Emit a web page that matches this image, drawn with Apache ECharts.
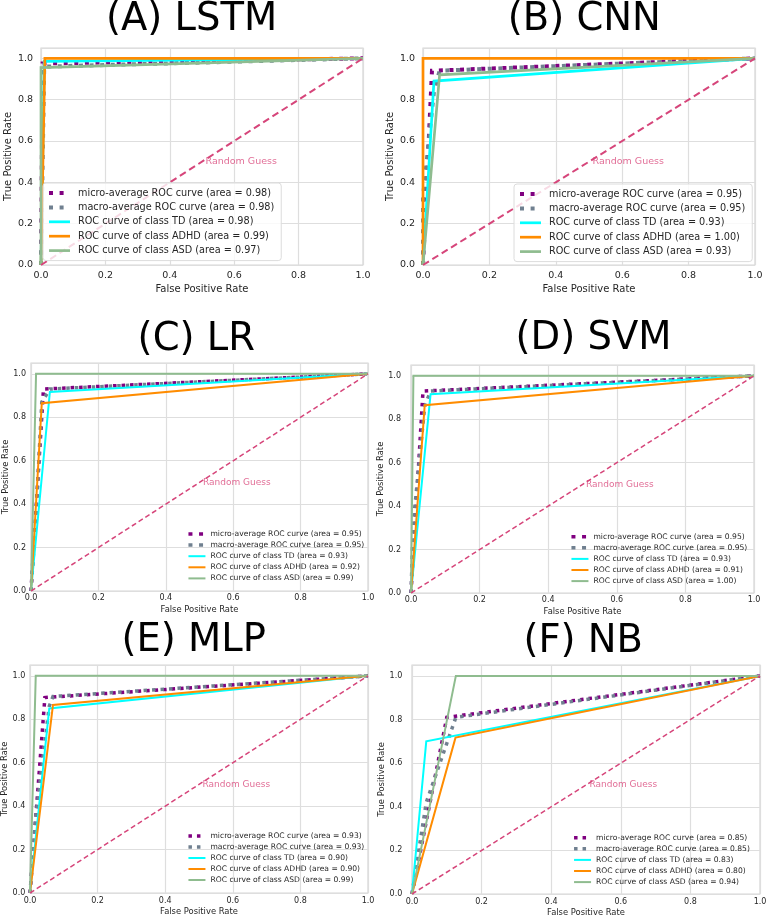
<!DOCTYPE html>
<html><head><meta charset="utf-8">
<script src="https://cdn.jsdelivr.net/npm/echarts@6/dist/echarts.min.js"></script>
<style>html,body{margin:0;padding:0;background:#fff}#c{width:768px;height:919px}</style>
</head><body><div id="c"></div>
<script>
// ---------------- data ----------------
const panelTitles = ['(A) LSTM', '(B) CNN', '(C) LR', '(D) SVM', '(E) MLP', '(F) NB'];
const tickLabels = ['0.0', '0.2', '0.4', '0.6', '0.8', '1.0'];
const xAxisTitle = 'False Positive Rate';
const yAxisTitle = 'True Positive Rate';
const guessText = 'Random Guess';
const guessLine = [[0, 0], [1, 1]];
const guessLabelAt = [[0.5, 0.5]];

const microArea = ['0.98', '0.95', '0.95', '0.95', '0.93', '0.85'];
const macroArea = ['0.98', '0.95', '0.95', '0.95', '0.93', '0.85'];
const tdArea    = ['0.98', '0.93', '0.93', '0.93', '0.90', '0.83'];
const adhdArea  = ['0.99', '1.00', '0.92', '0.91', '0.90', '0.80'];
const asdArea   = ['0.97', '0.93', '0.99', '1.00', '0.99', '0.94'];

const lstmMicro = [[0, 0], [0.005, 0.975], [1, 1]];
const lstmMacro = [[0, 0], [0.01, 0.96], [1, 1]];
const lstmTD    = [[0, 0], [0.01, 0.985], [1, 1]];
const lstmADHD  = [[0, 0], [0.012, 1], [1, 1]];
const lstmASD   = [[0, 0], [0, 0.955], [1, 1]];

const cnnMicro = [[0, 0], [0.027, 0.94], [1, 1]];
const cnnMacro = [[0, 0], [0, 0.33], [0.033, 0.84], [0.05, 0.94], [1, 1]];
const cnnTD    = [[0, 0], [0.033, 0.89], [1, 1]];
const cnnADHD  = [[0, 0], [0, 1], [1, 1]];
const cnnASD   = [[0, 0], [0.05, 0.92], [1, 1]];

const lrMicro = [[0, 0], [0.037, 0.93], [1, 1]];
const lrMacro = [[0, 0], [0.015, 0.35], [0.032, 0.87], [0.056, 0.93], [1, 1]];
const lrTD    = [[0, 0], [0.056, 0.917], [1, 1]];
const lrADHD  = [[0, 0], [0.032, 0.865], [1, 1]];
const lrASD   = [[0, 0], [0.015, 1], [1, 1]];

const svmMicro = [[0, 0], [0.035, 0.93], [1, 1]];
const svmMacro = [[0, 0], [0.007, 0.33], [0.04, 0.86], [0.057, 0.93], [1, 1]];
const svmTD    = [[0, 0], [0.057, 0.915], [1, 1]];
const svmADHD  = [[0, 0], [0.04, 0.865], [1, 1]];
const svmASD   = [[0, 0], [0.007, 1], [1, 1]];

const mlpMicro = [[0, 0], [0.044, 0.9], [1, 1]];
const mlpMacro = [[0, 0], [0.017, 0.35], [0.057, 0.86], [0.068, 0.905], [1, 1]];
const mlpTD    = [[0, 0], [0.057, 0.85], [1, 1]];
const mlpADHD  = [[0, 0], [0.068, 0.866], [1, 1]];
const mlpASD   = [[0, 0], [0.017, 1], [1, 1]];

const nbMicro = [[0, 0], [0.1, 0.81], [1, 1]];
const nbMacro = [[0, 0], [0.041, 0.42], [0.126, 0.81], [1, 1]];
const nbTD    = [[0, 0], [0.041, 0.7], [1, 1]];
const nbADHD  = [[0, 0], [0.125, 0.717], [1, 1]];
const nbASD   = [[0, 0], [0.126, 1], [1, 1]];

const curves = [
  [lstmMicro, lstmMacro, lstmTD, lstmADHD, lstmASD],
  [cnnMicro, cnnMacro, cnnTD, cnnADHD, cnnASD],
  [lrMicro, lrMacro, lrTD, lrADHD, lrASD],
  [svmMicro, svmMacro, svmTD, svmADHD, svmASD],
  [mlpMicro, mlpMacro, mlpTD, mlpADHD, mlpASD],
  [nbMicro, nbMacro, nbTD, nbADHD, nbASD]
];

// ---------------- layout & style ----------------
const FONT = 'DejaVu Sans';
const colors = ['#800080', '#708090', '#00ffff', '#ff8c00', '#8fbc8f'];
const guessColor = '#d6457a';
const gridColor = '#dedede';
const textColor = '#262626';

const big = {tick: 9.5, name: 10, legend: 9.7, solid: 2.7, dot: 4, dotDash: [4, 6.6], diag: 2, diagDash: [7, 4], guess: 9.5, iconW: 21};
const small = {tick: 8, name: 8.4, legend: 7.6, solid: 2, dot: 3.5, dotDash: [3.5, 5], diag: 1.5, diagDash: [5, 3], guess: 9, iconW: 17};

const layout = [
  {g: {left: 41, top: 48, width: 322, height: 217}, t: [191.5, 19.5], s: big, lg: {left: 43, top: 183, border: true, gap: 4.4, ih: 12, tp: 5}, xm: 6, xg: 19, ym: 8, yg: 28},
  {g: {left: 423, top: 48, width: 332, height: 217}, t: [584.3, 20], s: big, lg: {left: 514, top: 184, border: true, gap: 4.4, ih: 12, tp: 5}, xm: 6, xg: 19, ym: 8, yg: 28},
  {g: {left: 31, top: 363, width: 337, height: 228}, t: [196.3, 340], s: small, lg: {left: 186.7, top: 530, border: false, gap: 3.1, ih: 8, tp: 0}, xm: 3, xg: 14.5, ym: 5, yg: 21},
  {g: {left: 411, top: 365, width: 343, height: 228}, t: [593.5, 339], s: small, lg: {left: 569.7, top: 532.7, border: false, gap: 3.1, ih: 8, tp: 0}, xm: 3, xg: 14.5, ym: 10, yg: 20},
  {g: {left: 30, top: 665, width: 338, height: 228}, t: [193.7, 641], s: small, lg: {left: 186.7, top: 832, border: false, gap: 3.0, ih: 8, tp: 1}, xm: 3.5, xg: 14.5, ym: 4.7, yg: 20.7},
  {g: {left: 412, top: 665, width: 348, height: 229}, t: [583.2, 641.5], s: small, lg: {left: 572.3, top: 833.7, border: false, gap: 3.1, ih: 8, tp: 1}, xm: 3.5, xg: 14.5, ym: 9.7, yg: 20}
];

// ---------------- build option ----------------
const grids = [], xAxes = [], yAxes = [], series = [], legends = [], graphics = [];

layout.forEach((L, i) => {
  const s = L.s;
  grids.push(Object.assign({show: true, borderColor: '#d6d6d6', borderWidth: 1.2, backgroundColor: '#fff', containLabel: false, outerBoundsMode: 'none'}, L.g));
  xAxes.push({
    type: 'value', gridIndex: i, min: 0, max: 1, interval: 0.2,
    axisLine: {show: false}, axisTick: {show: false},
    splitLine: {show: true, lineStyle: {color: gridColor, width: 1.2}},
    axisLabel: {fontSize: s.tick, color: textColor, margin: L.xm, fontFamily: FONT,
      formatter: v => tickLabels[Math.round(v / 0.2)] || ''},
    name: xAxisTitle, nameLocation: 'middle', nameGap: L.xg,
    nameTextStyle: {fontSize: s.name, color: textColor, fontFamily: FONT}
  });
  yAxes.push({
    type: 'value', gridIndex: i, min: 0, max: 1.05, interval: 0.2,
    axisLine: {show: false}, axisTick: {show: false},
    splitLine: {show: true, lineStyle: {color: gridColor, width: 1.2}},
    axisLabel: {fontSize: s.tick, color: textColor, margin: L.ym, fontFamily: FONT, showMaxLabel: false,
      formatter: v => (v > 1.001 ? '' : (tickLabels[Math.round(v / 0.2)] || ''))},
    name: yAxisTitle, nameLocation: 'middle', nameGap: L.yg, nameRotate: 90,
    nameTextStyle: {fontSize: s.name, color: textColor, fontFamily: FONT}
  });

  const names = [
    `micro-average ROC curve (area = ${microArea[i]})`,
    `macro-average ROC curve (area = ${macroArea[i]})`,
    `ROC curve of class TD (area = ${tdArea[i]})`,
    `ROC curve of class ADHD (area = ${adhdArea[i]})`,
    `ROC curve of class ASD (area = ${asdArea[i]})`
  ];
  curves[i].forEach((d, k) => {
    const dotted = k < 2;
    series.push({
      type: 'line', name: names[k], xAxisIndex: i, yAxisIndex: i, data: d,
      symbol: 'none', silent: true, z: 2 + k * 0.01,
      lineStyle: {color: colors[k], width: dotted ? s.dot : s.solid, type: dotted ? s.dotDash : 'solid', cap: 'butt', join: 'miter'},
      itemStyle: {color: colors[k]}
    });
  });
  series.push({
    type: 'line', xAxisIndex: i, yAxisIndex: i, data: guessLine, symbol: 'none', silent: true, z: 3,
    lineStyle: {color: guessColor, width: s.diag, type: s.diagDash}
  });
  series.push({
    type: 'scatter', xAxisIndex: i, yAxisIndex: i, data: guessLabelAt, symbolSize: 1, silent: true, z: 4,
    itemStyle: {color: 'rgba(0,0,0,0)'},
    label: {show: true, position: 'right', distance: 3, formatter: guessText, color: '#d9487c', fontSize: s.guess, fontFamily: FONT}
  });

  const lg = L.lg;
  legends.push({
    orient: 'vertical', left: lg.left, top: lg.top,
    padding: lg.border ? [lg.tp, 7, lg.tp, 4] : 0,
    itemWidth: s.iconW, itemHeight: lg.ih, itemGap: lg.gap,
    borderColor: lg.border ? '#dcdcdc' : 'transparent', borderWidth: lg.border ? 1 : 0, borderRadius: 3,
    backgroundColor: lg.border ? 'rgba(255,255,255,0.8)' : 'transparent',
    selectedMode: false,
    itemStyle: {opacity: 0, borderWidth: 0},
    textStyle: {fontSize: s.legend, color: textColor, fontFamily: FONT, padding: lg.border ? [0, 0, 0, 3] : 0},
    data: names.map((n, k) => ({name: n, itemStyle: {opacity: 0, borderWidth: 0}, lineStyle: {width: k < 2 ? s.dot : s.solid}}))
  });

  graphics.push({
    type: 'text', x: L.t[0], y: L.t[1], silent: true,
    style: {text: panelTitles[i], font: '38.5px "DejaVu Sans"', fill: '#000', textAlign: 'center', textVerticalAlign: 'middle'}
  });
});

const chart = echarts.init(document.getElementById('c'), null, {renderer: 'canvas'});
chart.setOption({
  animation: false,
  backgroundColor: '#fff',
  textStyle: {fontFamily: FONT},
  grid: grids, xAxis: xAxes, yAxis: yAxes,
  legend: legends, series: series, graphic: graphics
});
</script></body></html>
